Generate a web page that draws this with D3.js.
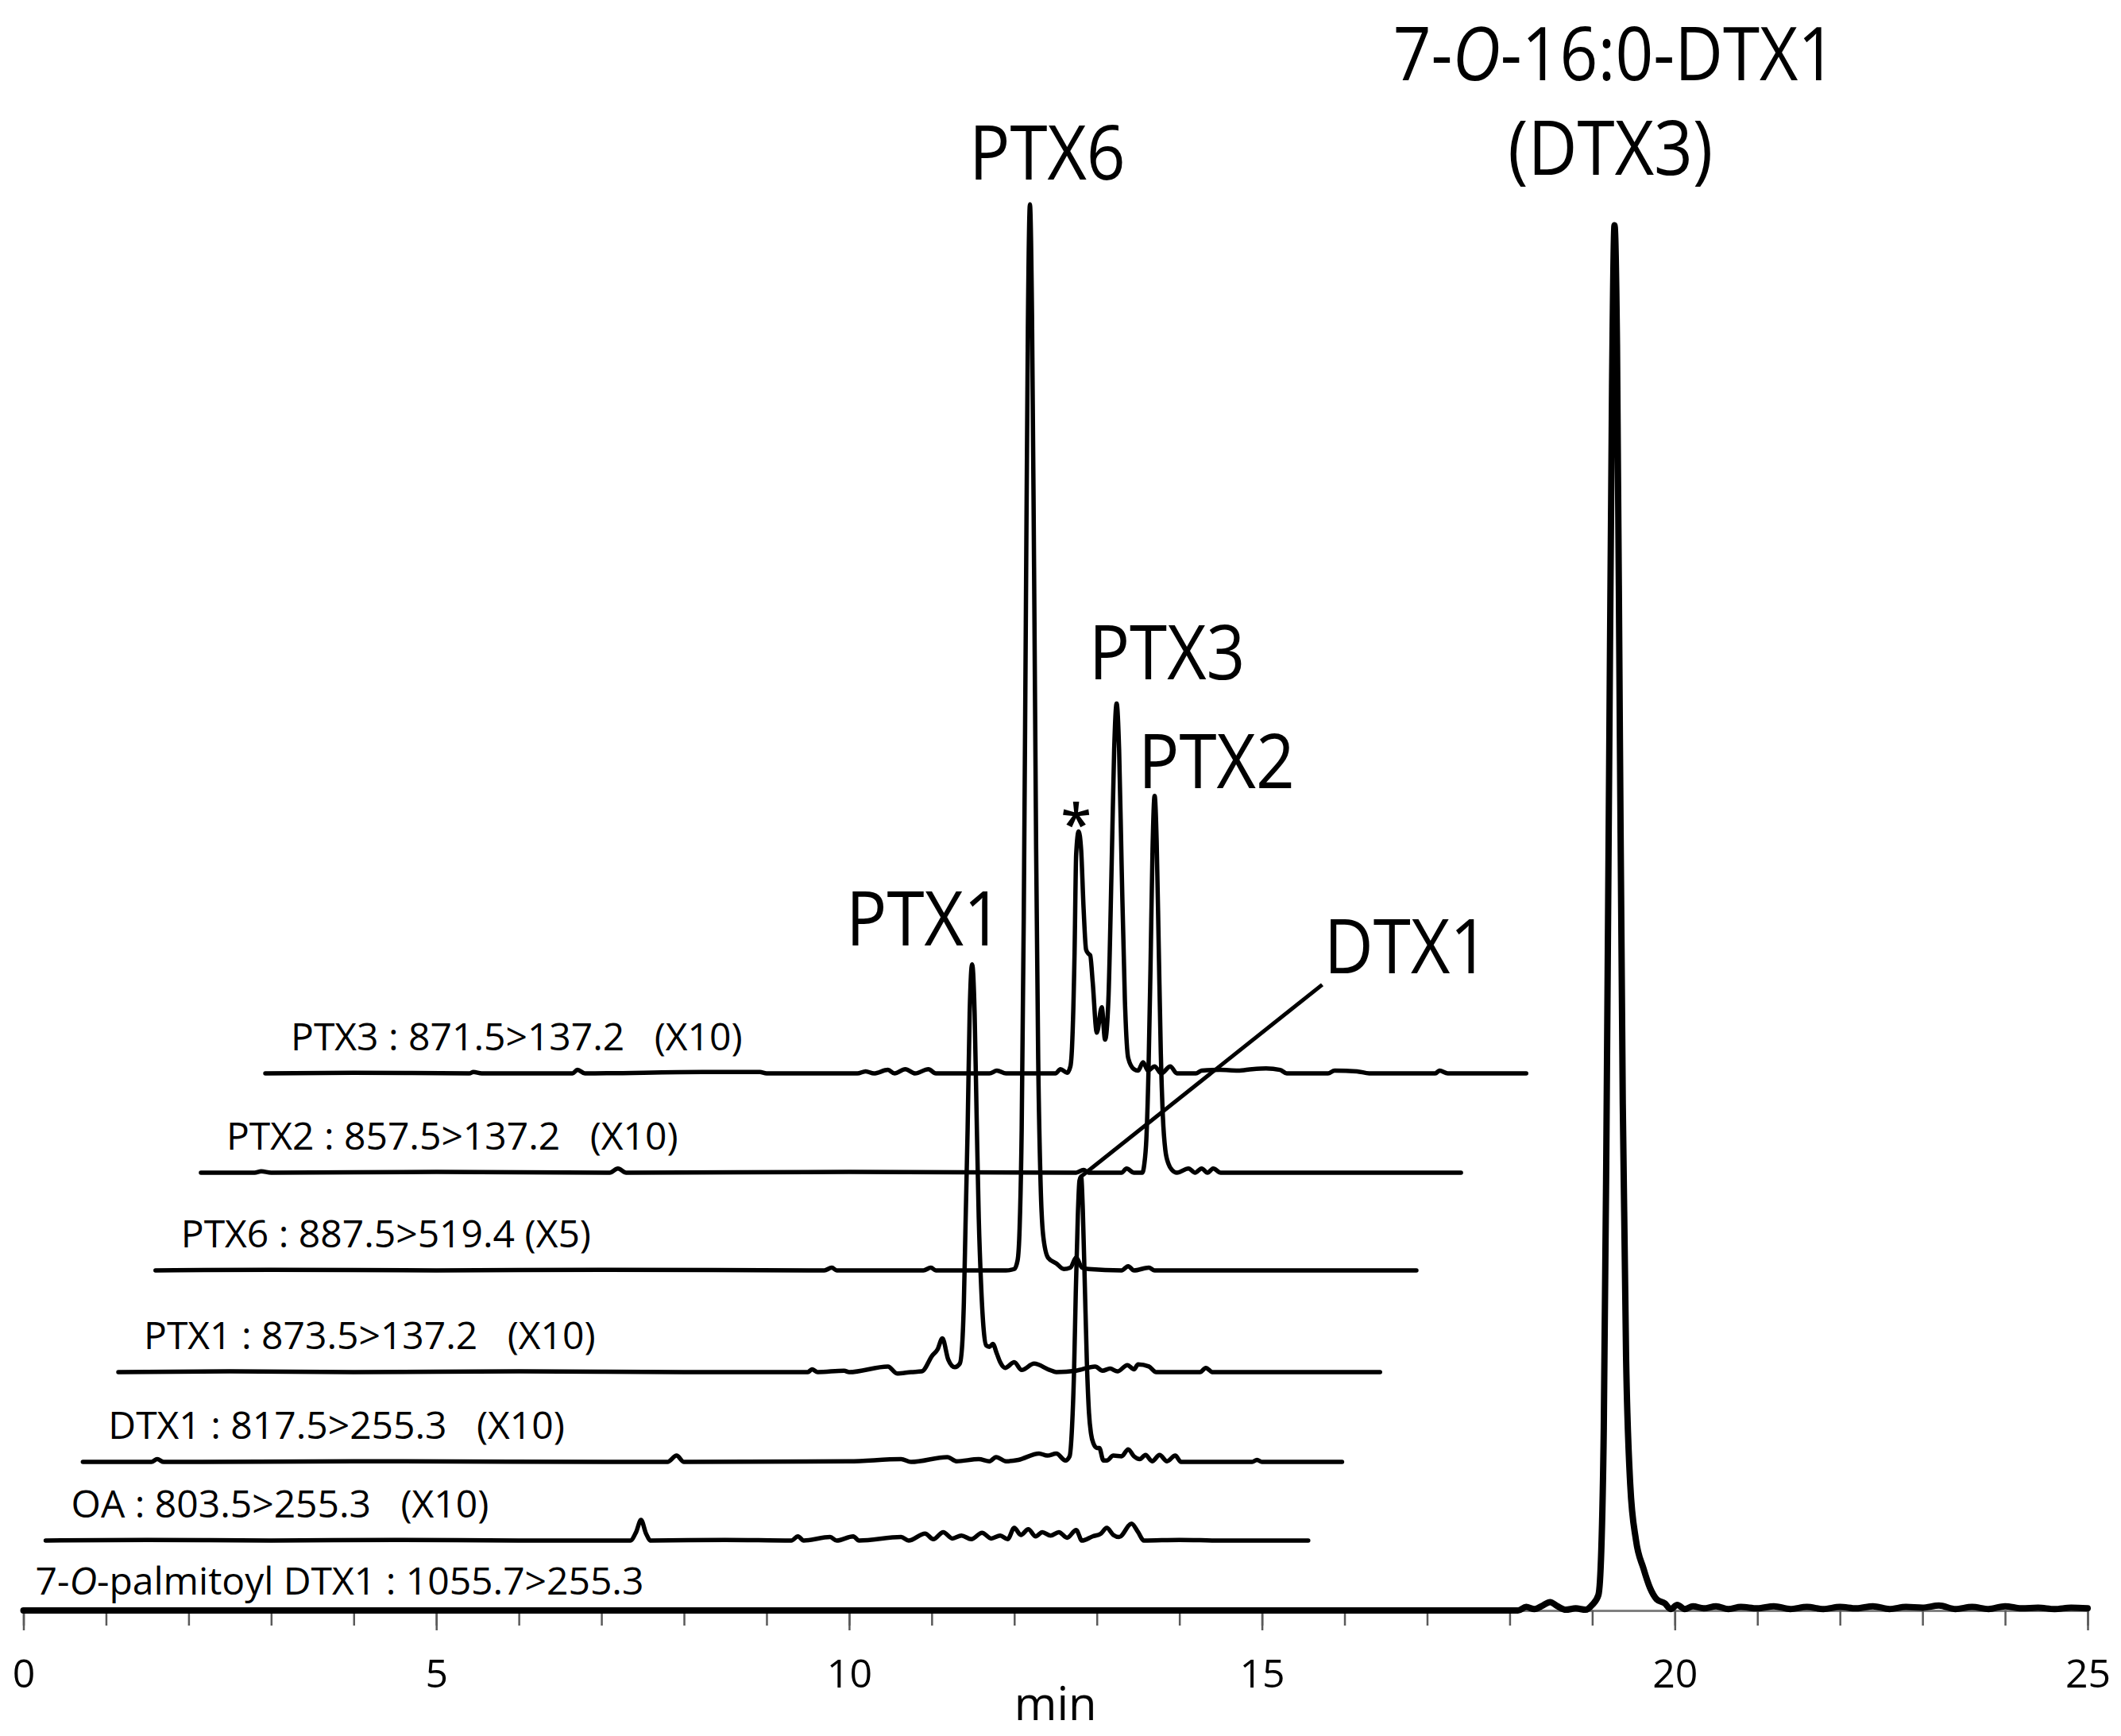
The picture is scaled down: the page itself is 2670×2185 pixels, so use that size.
<!DOCTYPE html>
<html>
<head>
<meta charset="utf-8">
<script src="https://cdn.jsdelivr.net/npm/d3@7"></script>
<style>
  body { margin: 0; background: #fff; }
  text { font-family: "Open Sans", "Noto Sans", sans-serif; fill: #000; }
</style>
</head>
<body>
<div id="chart"></div>
<script>
var width = 2670, height = 2185;
var margin = {top: 257, right: 42, bottom: 158, left: 29.5};

// traces, bottom to top
var traceNames = ["7-O-palmitoyl DTX1", "OA", "DTX1", "PTX1", "PTX6", "PTX2", "PTX3"];
var transitions = [" : 1055.7>255.3", " : 803.5>255.3   (X10)", " : 817.5>255.3   (X10)",
    " : 873.5>137.2   (X10)", " : 887.5>519.4 (X5)", " : 857.5>137.2   (X10)", " : 871.5>137.2   (X10)"];
// vertical offset of each trace baseline (intensity units)
var offsets = [0, 4.97, 10.56, 16.95, 24.18, 31.13, 38.19];

// [min, intensity above own baseline]
var dtx3Points = [[0,0],[18.1,0],[18.2,0.25],[18.3,0.1],[18.4,0.35],[18.49,0.6],[18.58,0.3],[18.68,0.05],
    [18.8,0.15],[18.92,0.05],[19.0,0.4],[19.075,1.1],[19.11,4.3],[19.14,13],[19.17,32],[19.205,60],[19.24,87],
    [19.27,98.5],[19.30,90],[19.335,62],[19.37,36],[19.41,18],[19.46,9],[19.53,5],[19.62,3],[19.7,1.6],
    [19.78,0.8],[19.88,0.5],[19.95,0.1],[20.03,0.4],[20.12,0.1],[20.22,0.3],[20.35,0.15],[20.5,0.3],
    [20.65,0.1],[20.8,0.25],[21.0,0.15],[21.2,0.3],[21.4,0.1],[21.6,0.25],[21.8,0.1],[22.0,0.25],
    [22.2,0.15],[22.4,0.3],[22.6,0.1],[22.8,0.25],[23.0,0.2],[23.2,0.35],[23.4,0.1],[23.6,0.25],
    [23.8,0.1],[24.0,0.3],[24.2,0.15],[24.4,0.2],[24.6,0.1],[24.8,0.2],[25,0.15]];
var oaPoints = [[0.27,0],[1.5,0.05],[3.0,0],[4.5,0.05],[6.0,0],[7.35,0],[7.42,0.6],[7.48,1.47],[7.54,0.5],
    [7.6,0],[8.5,0.05],[9.3,0],[9.38,0.3],[9.45,0],[9.77,0.25],[9.85,0],[10.05,0.3],[10.12,0],[10.63,0.25],
    [10.72,0],[10.92,0.5],[11.02,0.1],[11.14,0.6],[11.25,0.15],[11.36,0.35],[11.48,0.1],[11.61,0.55],
    [11.72,0.15],[11.83,0.35],[11.92,0.1],[12.0,0.9],[12.08,0.4],[12.17,0.8],[12.26,0.3],[12.34,0.6],
    [12.44,0.35],[12.54,0.6],[12.64,0.2],[12.75,0.75],[12.82,0],[12.95,0.3],[13.05,0.5],[13.12,0.9],
    [13.2,0.4],[13.27,0.25],[13.42,1.2],[13.5,0.6],[13.57,0],[14.0,0.05],[14.5,0],[15.56,0]];
var dtx1Points = [[0.72,0],[1.55,0],[1.62,0.2],[1.7,0],[4,0.05],[7.8,0],[7.91,0.45],[8.0,0],[10.0,0.05],
    [10.63,0.2],[10.75,0],[11.19,0.35],[11.3,0.05],[11.57,0.2],[11.7,0.05],[11.78,0.35],[11.9,0.05],
    [12.05,0.15],[12.3,0.6],[12.4,0.45],[12.51,0.6],[12.62,0.1],[12.67,0.4],[12.70,2.5],[12.725,6.6],
    [12.745,12],[12.77,17.5],[12.79,20],[12.81,20.3],[12.83,18],[12.855,12.5],[12.88,7],[12.905,3.5],
    [12.93,2],[12.96,1.3],[13.0,1.0],[13.03,1.0],[13.08,0.1],[13.12,0.1],[13.2,0.45],[13.3,0.4],
    [13.38,0.9],[13.45,0.4],[13.52,0.2],[13.59,0.5],[13.67,0.05],[13.76,0.5],[13.85,0.05],[13.95,0.45],
    [14.02,0],[14.88,0],[14.94,0.15],[15.0,0],[15.97,0]];
var ptx1Points = [[1.15,0],[2.5,0.05],[4.0,0],[6.0,0.05],[8.0,0],[9.5,0],[9.55,0.2],[9.62,0],[9.94,0.1],
    [10.0,0],[10.47,0.4],[10.58,-0.1],[10.75,0],[10.88,0.05],[11.01,1.2],[11.07,1.6],[11.13,2.4],
    [11.2,0.9],[11.28,0.35],[11.34,0.6],[11.37,2],[11.39,5],[11.41,10.5],[11.435,17.2],[11.46,25.5],
    [11.49,29],[11.52,25.5],[11.545,18],[11.57,11],[11.6,6],[11.63,3],[11.66,1.9],[11.7,1.8],[11.74,2.0],
    [11.79,1.3],[11.83,0.7],[11.89,0.3],[12.0,0.7],[12.09,0.15],[12.24,0.6],[12.43,0.15],[12.51,0],
    [12.75,0.1],[12.98,0.4],[13.07,0.1],[13.16,0.25],[13.25,0.05],[13.37,0.5],[13.45,0.2],[13.5,0.55],
    [13.63,0.4],[13.72,0],[14.25,0],[14.32,0.3],[14.4,0],[16.43,0]];
var ptx6Points = [[1.60,0],[3,0.05],[5,0],[7,0.05],[9.7,0],[9.79,0.2],[9.85,0],[10.9,0],[10.99,0.2],
    [11.05,0],[11.9,0],[12.0,0.1],[12.04,0.7],[12.065,3],[12.09,10],[12.115,25],[12.14,46],[12.165,67],
    [12.19,75.8],[12.215,68],[12.24,50],[12.265,30],[12.29,15],[12.32,6],[12.35,2.5],[12.41,0.9],
    [12.51,0.5],[12.6,0.1],[12.68,0.2],[12.75,0.9],[12.82,0.2],[12.9,0.1],[13.3,0],[13.38,0.3],
    [13.45,0],[13.63,0.2],[13.7,0],[16.87,0]];
var ptx2Points = [[2.15,0],[2.8,0],[2.88,0.1],[3.0,0],[5,0.05],[7.1,0],[7.2,0.3],[7.3,0],[10,0.05],
    [12.75,0],[12.84,0.2],[12.9,0],[13.3,0],[13.36,0.3],[13.45,0],[13.55,0],[13.575,0.6],[13.6,2.4],
    [13.625,7],[13.65,14.5],[13.675,23],[13.70,26.8],[13.725,23.5],[13.75,16],[13.775,8.5],[13.80,4],
    [13.83,1.6],[13.87,0.6],[13.91,0.2],[13.97,0],[14.11,0.3],[14.19,0],[14.27,0.3],[14.34,0],
    [14.41,0.3],[14.5,0],[17.41,0]];
var ptx3Points = [[2.93,0],[4,0.05],[5.4,0],[5.45,0.1],[5.55,0],[6.65,0],[6.71,0.26],[6.8,0],[8.22,0.1],
    [8.92,0.1],[9.0,0],[10.1,0],[10.2,0.15],[10.3,0],[10.47,0.25],[10.55,0],[10.68,0.3],[10.8,0],
    [10.96,0.3],[11.05,0],[11.7,0],[11.79,0.2],[11.9,0],[12.5,0],[12.56,0.3],[12.64,0.05],[12.68,0.5],
    [12.70,1.9],[12.73,8.4],[12.75,15.6],[12.78,17.2],[12.81,15.9],[12.84,11.7],[12.87,8.8],[12.9,8.5],
    [12.92,8.4],[12.95,6.5],[13.0,2.9],[13.06,4.7],[13.1,2.4],[13.14,5.2],[13.18,14.9],[13.21,23],
    [13.24,26.3],[13.27,23],[13.3,14.9],[13.34,5.2],[13.38,1.1],[13.45,0.3],[13.5,0.2],[13.56,0.8],
    [13.62,0.2],[13.7,0.5],[13.78,0],[13.89,0.5],[13.97,0],[14.2,0],[14.27,0.2],[14.49,0.25],[14.71,0.2],
    [14.88,0.3],[15.05,0.35],[15.22,0.25],[15.3,0],[15.8,0],[15.88,0.2],[16.15,0.15],[16.3,0],
    [17.1,0],[17.15,0.2],[17.25,0],[18.2,0]];
var traceData = [dtx3Points, oaPoints, dtx1Points, ptx1Points, ptx6Points, ptx2Points, ptx3Points];

// peak annotations: [text, min, intensity (baseline)]
var peakLabels = [["PTX6", 12.40, 101.75], ["(DTX3)", 19.22, 102.1], ["PTX3", 13.85, 66.2],
    ["PTX2", 14.45, 58.5], ["PTX1", 10.91, 47.3], ["DTX1", 16.75, 45.3]];
var dtx1Leader = [[12.81, 30.86], [15.73, 44.5]];
var starMark = [12.75, 54.5];
var titleLabel = [19.27, 108.8];

var majorTicks = [0, 5, 10, 15, 20, 25];
var minorTicks = d3.range(0, 26, 1);

var svg = d3.select("#chart").append("svg")
    .attr("width", width)
    .attr("height", height)
    .style("background", "#fff");

var x = d3.scaleLinear().domain([0, 25]).range([margin.left, width - margin.right]);
var y = d3.scaleLinear().domain([0, 100]).range([height - margin.bottom, margin.top]);

// axis
var axisG = svg.append("g").attr("transform", "translate(0," + y(0) + ")");
axisG.append("g")
    .call(d3.axisBottom(x).tickValues(minorTicks).tickSize(19).tickSizeOuter(0).tickFormat(""))
    .call(function(g) {
        g.select(".domain").attr("stroke", "#808080").attr("stroke-width", 3);
        g.selectAll(".tick line").attr("stroke", "#5a5a5a").attr("stroke-width", 2.5);
    });
axisG.append("g")
    .call(d3.axisBottom(x).tickValues(majorTicks).tickSize(25).tickPadding(36).tickSizeOuter(0))
    .call(function(g) {
        g.select(".domain").remove();
        g.selectAll(".tick line").attr("stroke", "#5a5a5a").attr("stroke-width", 2.5);
        g.selectAll(".tick text").attr("fill", "#000")
            .style("font-family", '"Open Sans", sans-serif').style("font-size", "50px");
    });

svg.append("text")
    .attr("x", (x.range()[0] + x.range()[1]) / 2)
    .attr("y", y(0) + 138)
    .attr("text-anchor", "middle")
    .style("font-size", "58px")
    .text("min");

// traces
var line = d3.line().curve(d3.curveMonotoneX);
traceData.forEach(function(pts, i) {
    line.x(function(d) { return x(d[0]); })
        .y(function(d) { return y(offsets[i] + d[1]); });
    svg.append("path")
        .datum(pts)
        .attr("fill", "none")
        .attr("stroke", "#000")
        .attr("stroke-width", i == 0 ? 8 : 5.5)
        .attr("stroke-linejoin", "round")
        .attr("stroke-linecap", "round")
        .attr("d", line);

    // trace label
    var start = pts[0][0];
    var t = svg.append("text")
        .attr("x", x(start) + (i == 0 ? 15 : 32))
        .attr("y", y(offsets[i]) - (i == 0 ? 20 : 29))
        .style("font-size", "48px")
        .style("white-space", "pre");
    if (i == 0) {
        t.append("tspan").text("7-");
        t.append("tspan").style("font-style", "italic").text("O");
        t.append("tspan").text("-palmitoyl DTX1" + transitions[i]);
    } else {
        t.text(traceNames[i] + transitions[i]);
    }
});

// DTX1 leader line
svg.append("path")
    .datum(dtx1Leader)
    .attr("fill", "none")
    .attr("stroke", "#000")
    .attr("stroke-width", 5)
    .attr("d", d3.line().x(function(d) { return x(d[0]); }).y(function(d) { return y(d[1]); }));

// big labels, slightly condensed
var squeeze = 0.9;
svg.selectAll(".peak-label")
    .data(peakLabels)
    .enter().append("g")
    .attr("class", "peak-label")
    .attr("transform", function(d) { return "translate(" + x(d[1]) + "," + y(d[2]) + ") scale(" + squeeze + ",1)"; })
    .append("text")
    .attr("text-anchor", "middle")
    .style("font-size", "95px")
    .text(function(d) { return d[0]; });

var title = svg.append("g")
    .attr("transform", "translate(" + x(titleLabel[0]) + "," + y(titleLabel[1]) + ") scale(" + squeeze + ",1)")
    .append("text")
    .attr("text-anchor", "middle")
    .style("font-size", "93px");
title.append("tspan").text("7-");
title.append("tspan").style("font-style", "italic").text("O");
title.append("tspan").text("-16:0-DTX1");

svg.append("text")
    .attr("x", x(starMark[0]))
    .attr("y", y(starMark[1]))
    .attr("text-anchor", "middle")
    .style("font-size", "70px")
    .style("font-weight", 600)
    .text("*");
</script>
</body>
</html>
